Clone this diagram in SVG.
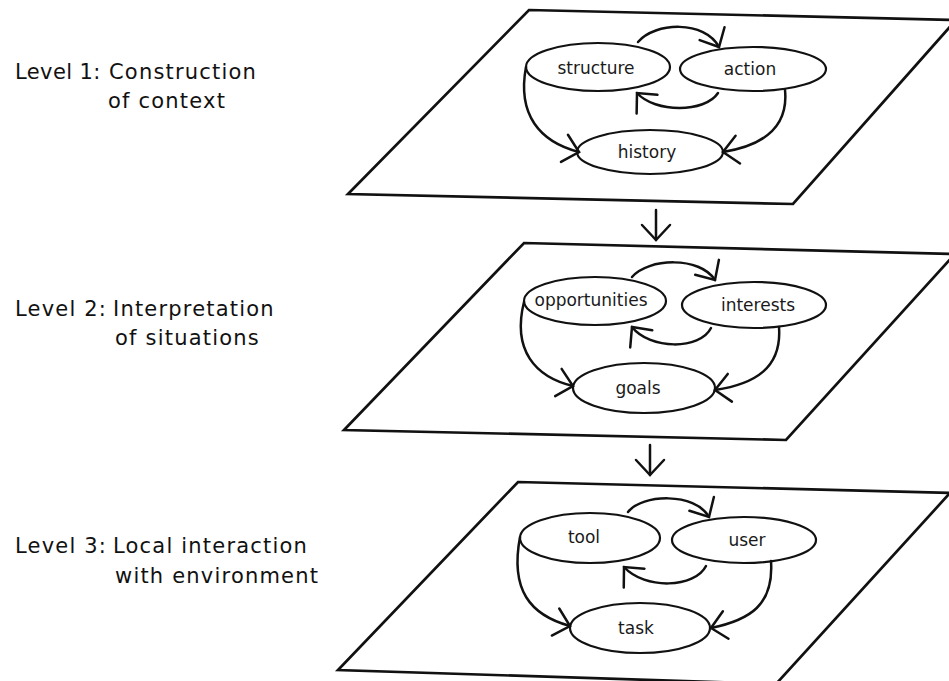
<svg xmlns="http://www.w3.org/2000/svg" width="949" height="681" viewBox="0 0 949 681">
<style>
.plane{fill:none;stroke:#111;stroke-width:2.7;stroke-linejoin:miter}
.node ellipse{fill:none;stroke:#111;stroke-width:2.2}
.node text{font-family:"DejaVu Sans","Noto Sans",sans-serif;font-size:17px;fill:#1a1a1a;text-anchor:middle}
.conn path{fill:none;stroke:#111;stroke-width:2.5;stroke-linecap:round}
.lvl{font-family:"DejaVu Sans","Noto Sans",sans-serif;font-size:21px;fill:#111;letter-spacing:1.2px}
</style>
<defs>
<marker id="ah" viewBox="-20 -16 22 32" markerWidth="22" markerHeight="32" refX="0" refY="0" orient="auto" markerUnits="userSpaceOnUse">
<path d="M-15,-14 L0,0 L-15,14" fill="none" stroke="#111" stroke-width="2.5" stroke-linecap="round"/>
</marker>
</defs>
<rect width="949" height="681" fill="#fff"/>

<g id="labels">
<text class="lvl"><tspan x="15" y="79" letter-spacing="0.4">Level 1:</tspan><tspan x="109" y="79">Construction</tspan><tspan x="108" y="108">of context</tspan></text>
<text class="lvl"><tspan x="15" y="316">Level 2:</tspan><tspan x="113" y="316">Interpretation</tspan><tspan x="115" y="345">of situations</tspan></text>
<text class="lvl"><tspan x="15" y="553">Level 3:</tspan><tspan x="113" y="553">Local interaction</tspan><tspan x="115" y="583">with environment</tspan></text>
</g>

<g id="planes">
<polygon id="plane1" class="plane" points="529,10 956,20 793,204 348,194"/>
<polygon id="plane2" class="plane" points="524,243 955,254 786,440 344,430"/>
<polygon id="plane3" class="plane" points="518,482 950,493 776,684 338,670"/>
</g>

<g id="node-structure" class="node"><ellipse cx="598" cy="67" rx="72" ry="24"/><text x="596" y="74">structure</text></g>
<g id="node-action" class="node"><ellipse cx="753" cy="69" rx="73" ry="22"/><text x="750" y="75">action</text></g>
<g id="node-history" class="node"><ellipse cx="650" cy="152" rx="73" ry="22"/><text x="647" y="158">history</text></g>

<g id="node-opportunities" class="node"><ellipse cx="595" cy="301" rx="71" ry="24"/><text x="591" y="306">opportunities</text></g>
<g id="node-interests" class="node"><ellipse cx="754" cy="305" rx="72" ry="23"/><text x="758" y="311">interests</text></g>
<g id="node-goals" class="node"><ellipse cx="644" cy="388" rx="71" ry="25"/><text x="638" y="394">goals</text></g>

<g id="node-tool" class="node"><ellipse cx="590" cy="538" rx="70" ry="25"/><text x="584" y="543">tool</text></g>
<g id="node-user" class="node"><ellipse cx="744" cy="540" rx="72" ry="23"/><text x="747" y="546">user</text></g>
<g id="node-task" class="node"><ellipse cx="640" cy="628" rx="70" ry="25"/><text x="636" y="634">task</text></g>

<g id="connectors" class="conn">
<path d="M638,42 C655,22 705,20 719,47" marker-end="url(#ah)"/>
<path d="M718,93 C705,113 655,113 637,93" marker-end="url(#ah)"/>
<path d="M526,67 C517,115 540,142 579,152" marker-end="url(#ah)"/>
<path d="M785,90 C789,130 760,146 723,152" marker-end="url(#ah)"/>

<path d="M656,210 L656,240" marker-end="url(#ah)"/>

<path d="M632,277 C648,258 700,256 715,280" marker-end="url(#ah)"/>
<path d="M711,328 C700,350 650,350 632,327" marker-end="url(#ah)"/>
<path d="M524,302 C512,350 535,377 573,386" marker-end="url(#ah)"/>
<path d="M779,327 C782,368 755,384 715,390" marker-end="url(#ah)"/>

<path d="M650,445 L650,475" marker-end="url(#ah)"/>

<path d="M628,512 C642,494 695,492 709,517" marker-end="url(#ah)"/>
<path d="M706,566 C695,588 645,590 624,567" marker-end="url(#ah)"/>
<path d="M520,537 C510,590 530,615 570,626" marker-end="url(#ah)"/>
<path d="M771,561 C774,605 750,620 711,628" marker-end="url(#ah)"/>
</g>
</svg>
